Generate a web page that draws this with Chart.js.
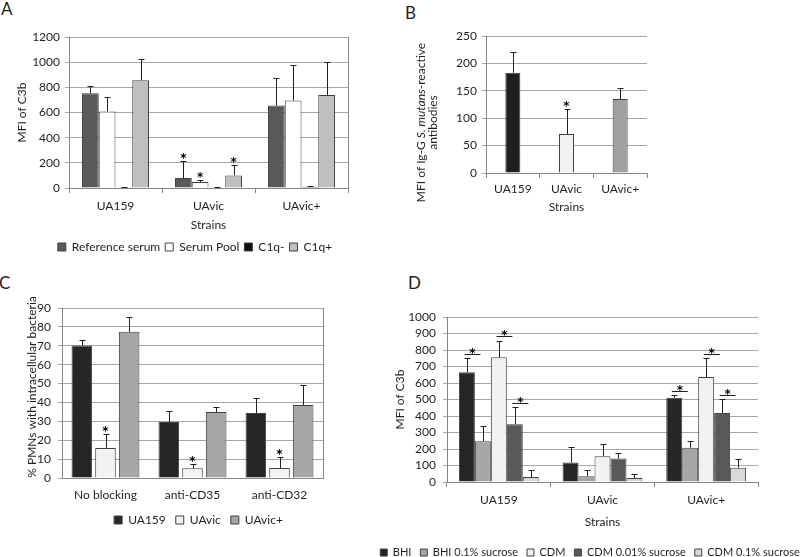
<!DOCTYPE html>
<html>
<head>
<meta charset="utf-8">
<script src="https://cdn.jsdelivr.net/npm/chart.js@4.4.1/dist/chart.umd.min.js"></script>
<style>
  body { margin: 0; width: 800px; height: 557px; overflow: hidden; background: #fff; position: relative; font-family: Lato, sans-serif; }
  canvas { position: absolute; }
  .tag { position: absolute; font: 17px Lato, sans-serif; line-height: 1; color: #1f1f1f; }
</style>
</head>
<body>
<div class="tag" style="left:1px;top:0px">A</div>
<div class="tag" style="left:405px;top:4px">B</div>
<div class="tag" style="left:-1px;top:274px">C</div>
<div class="tag" style="left:408px;top:274px">D</div>

<canvas id="chartA" width="400" height="263" style="left:0;top:0"></canvas>
<canvas id="chartB" width="260" height="219" style="left:400px;top:0"></canvas>
<canvas id="chartC" width="400" height="256" style="left:0;top:280px"></canvas>
<canvas id="chartD" width="440" height="288" style="left:370px;top:280px"></canvas>

<script>
const strains = ['UA159', 'UAvic', 'UAvic+'];
const blocking = ['No blocking', 'anti-CD35', 'anti-CD32'];

// A - MFI of C3b, upper end of error bar kept separately
const seriesA = ['Reference serum', 'Serum Pool', 'C1q-', 'C1q+'];
const refSerum = [753, 79, 655];
const refSerumTop = [814, 216, 875];
const serumPool = [608, 48, 695];
const serumPoolTop = [722, 66, 980];
const c1qMinus = [5, 3, 10];
const c1qMinusTop = [7, 4, 15];
const c1qPlus = [856, 100, 740];
const c1qPlusTop = [1025, 179, 1002];
const starsA = [[0, 1], [1, 1], [3, 1]];

// B - IgG antibodies
const igg = [183, 71, 135];
const iggTop = [220, 116, 155];
const starsB = [[0, 1]];

// C - % PMNs with intracellular bacteria
const pmnUA159 = [70.2, 29.6, 34.4];
const pmnUA159Top = [72.8, 35.3, 42.1];
const pmnUAvic = [15.9, 5.1, 5.3];
const pmnUAvicTop = [23.5, 7.4, 11.3];
const pmnUAvicPlus = [77.4, 34.9, 38.6];
const pmnUAvicPlusTop = [85, 37.4, 49];
const starsC = [[1, 0], [1, 1], [1, 2]];

// D - MFI of C3b by growth medium
const seriesD = ['BHI', 'BHI 0.1% sucrose', 'CDM', 'CDM 0.01% sucrose', 'CDM 0.1% sucrose'];
const bhi = [665, 118, 511];
const bhiTop = [754, 212, 525];
const bhiSuc = [247, 35, 208];
const bhiSucTop = [338, 75, 248];
const cdm = [756, 156, 636];
const cdmTop = [855, 233, 754];
const cdm001 = [350, 142, 418];
const cdm001Top = [455, 174, 503];
const cdm01 = [30, 24, 87];
const cdm01Top = [71, 47, 138];
// significance lines: [series, strain, level]
const bracketsD = [[0, 0, 778], [2, 0, 883], [3, 0, 479], [0, 2, 551], [2, 2, 778], [3, 2, 527]];

const textColor = '#1f1f1f';
const gridColor = '#a6a6a6';
const axisColor = '#868686';
const edgeColor = '#404040';
const starFont = 'bold 12px "DejaVu Sans", sans-serif';

Chart.defaults.font.family = 'Lato, sans-serif';
Chart.defaults.font.size = 12;
Chart.defaults.color = textColor;

// error bars (upper whisker only), stars and significance lines
const errorBars = {
  id: 'errorBars',
  afterDatasetsDraw(chart, args, opts) {
    const ctx = chart.ctx;
    const y = chart.scales.y;
    ctx.save();
    ctx.strokeStyle = textColor;
    ctx.lineWidth = 1;
    chart.data.datasets.forEach((ds, i) => {
      chart.getDatasetMeta(i).data.forEach((bar, j) => {
        const x = Math.round(bar.x) + 0.5;
        const top = Math.round(y.getPixelForValue(ds.errTop[j])) + 0.5;
        ctx.beginPath();
        ctx.moveTo(x, bar.y);
        ctx.lineTo(x, top);
        ctx.moveTo(x - 3, top);
        ctx.lineTo(x + 3, top);
        ctx.stroke();
      });
    });
    ctx.fillStyle = '#000';
    ctx.font = starFont;
    ctx.textAlign = 'center';
    ctx.textBaseline = 'alphabetic';
    (opts.stars || []).forEach(([i, j]) => {
      const bar = chart.getDatasetMeta(i).data[j];
      const top = y.getPixelForValue(chart.data.datasets[i].errTop[j]);
      ctx.fillText('*', bar.x, top + 1);
    });
    (opts.brackets || []).forEach(([i, j, level]) => {
      const bar = chart.getDatasetMeta(i).data[j];
      const py = Math.round(y.getPixelForValue(level)) + 0.5;
      const w = bar.width;
      ctx.beginPath();
      ctx.moveTo(bar.x - 0.15 * w, py);
      ctx.lineTo(bar.x + 0.85 * w, py);
      ctx.stroke();
      ctx.fillText('*', bar.x + 0.35 * w, py + 2);
    });
    ctx.restore();
  }
};

// right edge of the plot area
const frame = {
  id: 'frame',
  beforeDatasetsDraw(chart) {
    const {ctx, chartArea: a} = chart;
    const x = Math.round(a.right) + 0.5;
    ctx.save();
    ctx.strokeStyle = axisColor;
    ctx.beginPath();
    ctx.moveTo(x, a.top);
    ctx.lineTo(x, a.bottom);
    ctx.stroke();
    ctx.restore();
  }
};

// rotated y title drawn by hand (allows an italic run and exact placement)
const sideTitle = {
  id: 'sideTitle',
  afterDraw(chart, args, opts) {
    const {ctx, chartArea: a} = chart;
    const cy = (a.top + a.bottom) / 2 + opts.dy;
    ctx.save();
    ctx.fillStyle = textColor;
    ctx.textBaseline = 'middle';
    ctx.textAlign = 'left';
    const font = it => (it ? 'italic ' : '') + '12px Lato, sans-serif';
    opts.lines.forEach((line, k) => {
      let total = 0;
      line.forEach(([t, it]) => { ctx.font = font(it); total += ctx.measureText(t).width; });
      ctx.save();
      ctx.translate(opts.xs[k], cy);
      ctx.rotate(-Math.PI / 2);
      let x = -total / 2;
      line.forEach(([t, it]) => {
        ctx.font = font(it);
        ctx.fillText(t, x, 0);
        x += ctx.measureText(t).width;
      });
      ctx.restore();
    });
    ctx.restore();
  }
};

// empty axis that only reserves room on the right
function spacer(w) {
  return {
    position: 'right',
    grid: { display: false },
    border: { display: false },
    ticks: { display: false },
    afterFit: s => { s.width = w; }
  };
}

function yAxis(max, step, width, title, titlePad, tickPad) {
  return {
    min: 0, max: max,
    ticks: { stepSize: step, padding: tickPad, autoSkip: false, callback: v => String(v) },
    grid: { color: gridColor, tickLength: 4 },
    border: { color: axisColor },
    title: { display: !!title, text: title, padding: { top: titlePad, bottom: 0 } },
    afterFit: s => { s.width = width; }
  };
}

function xAxis(height, tickLen, tickPad, title, titlePad) {
  return {
    grid: { drawOnChartArea: false, tickLength: tickLen, drawTicks: tickLen > 0, color: axisColor },
    border: { color: axisColor },
    ticks: { padding: tickPad },
    title: { display: !!title, text: title, padding: { top: 0, bottom: titlePad } },
    afterFit: s => { s.height = height; }
  };
}

function bars(label, data, top, color) {
  return { label: label, data: data, errTop: top, backgroundColor: color, borderColor: edgeColor, borderWidth: 1 };
}

// ---------- A ----------
new Chart(document.getElementById('chartA'), {
  type: 'bar',
  data: {
    labels: strains,
    datasets: [
      bars(seriesA[0], refSerum, refSerumTop, '#595959'),
      bars(seriesA[1], serumPool, serumPoolTop, '#ffffff'),
      bars(seriesA[2], c1qMinus, c1qMinusTop, '#0d0d0d'),
      bars(seriesA[3], c1qPlus, c1qPlusTop, '#bfbfbf')
    ]
  },
  options: {
    responsive: false,
    animation: false,
    categoryPercentage: 0.72,
    barPercentage: 1,
    layout: { padding: { left: 5, right: 15, top: 37, bottom: 0 } },
    scales: {
      x: xAxis(48, 5, 6, 'Strains', 4),
      y: yAxis(1200, 200, 64, 'MFI of C3b', 10, 5),
      pad: spacer(37)
    },
    plugins: {
      legend: { position: 'bottom', labels: { boxWidth: 8, boxHeight: 8, padding: 5 } },
      tooltip: { enabled: false },
      errorBars: { stars: starsA }
    }
  },
  plugins: [frame, errorBars]
});

// ---------- B ----------
new Chart(document.getElementById('chartB'), {
  type: 'bar',
  data: {
    labels: strains,
    datasets: [
      { label: 'IgG', data: igg, errTop: iggTop,
        backgroundColor: ['#1f1f1f', '#f2f2f2', '#a0a0a0'], borderColor: edgeColor, borderWidth: 1 }
    ]
  },
  options: {
    responsive: false,
    animation: false,
    categoryPercentage: 0.8,
    barPercentage: 0.35,
    layout: { padding: { left: 0, right: 13, top: 36, bottom: 0 } },
    scales: {
      x: xAxis(46, 5, 4, 'Strains', 5),
      y: yAxis(250, 50, 86, '', 0, 5)
    },
    plugins: {
      legend: { display: false },
      tooltip: { enabled: false },
      errorBars: { stars: starsB },
      sideTitle: {
        xs: [21, 33.5], dy: 18,
        lines: [
          [['MFI of Ig-G ', false], ['S. mutans', true], ['-reactive', false]],
          [['antibodies', false]]
        ]
      }
    }
  },
  plugins: [errorBars, sideTitle]
});

// ---------- C ----------
new Chart(document.getElementById('chartC'), {
  type: 'bar',
  data: {
    labels: blocking,
    datasets: [
      bars('UA159', pmnUA159, pmnUA159Top, '#262626'),
      bars('UAvic', pmnUAvic, pmnUAvicTop, '#f2f2f2'),
      bars('UAvic+', pmnUAvicPlus, pmnUAvicPlusTop, '#a6a6a6')
    ]
  },
  options: {
    responsive: false,
    animation: false,
    categoryPercentage: 0.816,
    barPercentage: 0.87,
    layout: { padding: { left: 20, right: 23, top: 28, bottom: 0 } },
    scales: {
      x: xAxis(26, 0, 10, '', 0),
      y: yAxis(90, 10, 42, '', 0, 7),
      pad: spacer(54)
    },
    plugins: {
      legend: { position: 'bottom', labels: { boxWidth: 8, boxHeight: 8, padding: 10 } },
      tooltip: { enabled: false },
      errorBars: { stars: starsC },
      sideTitle: { xs: [32], dy: -6, lines: [[['% PMNs with intracellular bacteria', false]]] }
    }
  },
  plugins: [frame, errorBars, sideTitle]
});

// ---------- D ----------
new Chart(document.getElementById('chartD'), {
  type: 'bar',
  data: {
    labels: strains,
    datasets: [
      bars(seriesD[0], bhi, bhiTop, '#262626'),
      bars(seriesD[1], bhiSuc, bhiSucTop, '#a6a6a6'),
      bars(seriesD[2], cdm, cdmTop, '#f2f2f2'),
      bars(seriesD[3], cdm001, cdm001Top, '#595959'),
      bars(seriesD[4], cdm01, cdm01Top, '#d9d9d9')
    ]
  },
  options: {
    responsive: false,
    animation: false,
    categoryPercentage: 0.77,
    barPercentage: 1,
    layout: { padding: { left: 0, right: 0, top: 37, bottom: 0 } },
    scales: {
      x: xAxis(56, 5, 6, 'Strains', 9),
      y: yAxis(1000, 100, 77, 'MFI of C3b', 23, 7),
      pad: spacer(52)
    },
    plugins: {
      legend: { position: 'bottom', labels: { boxWidth: 7, boxHeight: 7, padding: 9, font: { size: 11 } } },
      tooltip: { enabled: false },
      errorBars: { brackets: bracketsD }
    }
  },
  plugins: [errorBars]
});
</script>
</body>
</html>
